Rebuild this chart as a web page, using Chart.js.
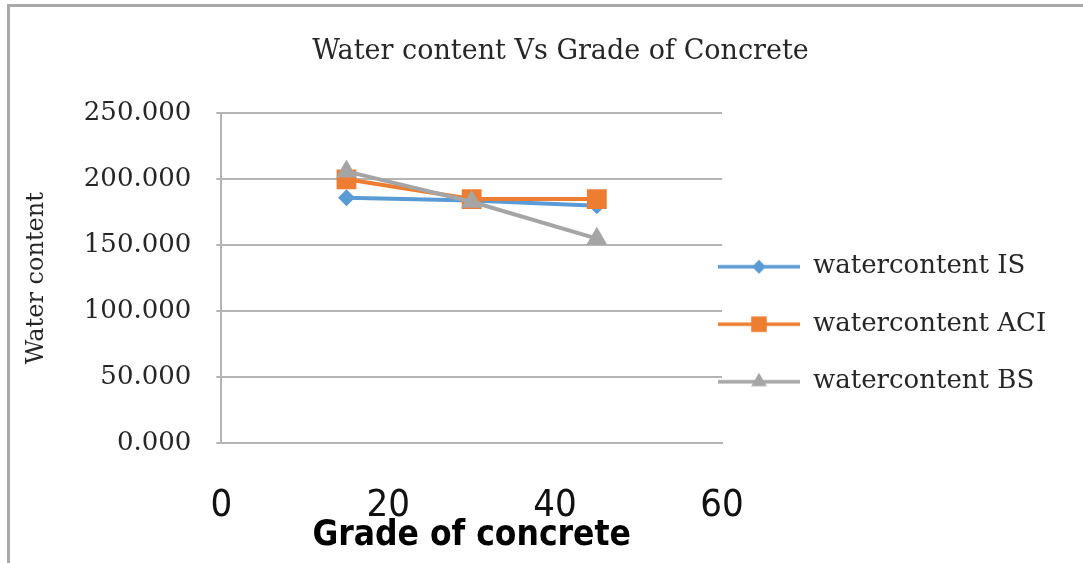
<!DOCTYPE html>
<html>
<head>
<meta charset="utf-8">
<script src="https://cdn.jsdelivr.net/npm/chart.js@4.4.0/dist/chart.umd.min.js"></script>
<style>
  html, body { margin: 0; padding: 0; background: #fff; }
  #frame { position: absolute; left: 7px; top: 4px; width: 1076px; height: 557px;
           border-left: 3px solid #a9a9a9; border-top: 3px solid #a9a9a9; border-bottom: 1px solid #d4d4d4; }
  #wrap { position: absolute; left: 0; top: 0; width: 1083px; height: 563px; }
</style>
</head>
<body>
<div id="frame"></div>
<div id="wrap"><canvas id="chart"></canvas></div>
<script>
// grade of concrete (x) and water content per method
var grades = [15, 30, 45];
var waterIS = [186, 184, 180];
var waterACI = [200, 185, 185];
var waterBS = [206, 183, 155];
var seriesNames = ['watercontent IS', 'watercontent ACI', 'watercontent BS'];
var xTicks = [0, 20, 40, 60];
var yTicks = [0, 50, 100, 150, 200, 250];

var serif = "'DejaVu Serif', serif";
var narrow = "'DejaVu Sans Condensed', 'DejaVu Sans', sans-serif";
var colors = ['#5b9bd5', '#ed7d31', '#a5a5a5'];
var styles = ['rectRot', 'rect', 'triangle'];
var radii = [8.5, 14, 12];

function toPoints(values) {
    return grades.map(function (g, i) { return { x: g, y: values[i] }; });
}

// legend sample: a short line with the marker in the middle
function makeIcon(color, style, r) {
    var c = document.createElement('canvas');
    c.width = 82; c.height = 26;
    var ctx = c.getContext('2d');
    ctx.strokeStyle = color;
    ctx.lineWidth = 3.5;
    ctx.beginPath();
    ctx.moveTo(0, 13); ctx.lineTo(82, 13);
    ctx.stroke();
    ctx.fillStyle = color;
    Chart.helpers.drawPoint(ctx, { pointStyle: style, rotation: 0, radius: r, borderWidth: 0 }, 41, 13);
    return c;
}
var legendIcons = [makeIcon(colors[0], styles[0], 7), makeIcon(colors[1], styles[1], 11), makeIcon(colors[2], styles[2], 9)];

var datasets = [waterIS, waterACI, waterBS].map(function (vals, i) {
    return {
        label: seriesNames[i],
        data: toPoints(vals),
        borderColor: colors[i],
        backgroundColor: colors[i],
        borderWidth: 4,
        pointStyle: styles[i],
        pointRadius: radii[i],
        pointBorderWidth: 0,
        order: 3 - i
    };
});

// nudge legend to sit where the reference has it
var legendNudge = {
    id: 'legendNudge',
    afterLayout: function (chart) {
        var lg = chart.legend;
        var dx = chart.chartArea.right - 4 - lg.left - lg.options.labels.padding;
        lg.left += dx; lg.right += dx;
        lg.top += 46; lg.bottom += 46;
    }
};

new Chart(document.getElementById('chart'), {
    type: 'line',
    data: { datasets: datasets },
    plugins: [legendNudge],
    options: {
        responsive: true,
        maintainAspectRatio: false,
        animation: false,
        layout: { padding: { left: 38, right: 0, top: 0, bottom: 0 } },
        plugins: {
            title: {
                display: true,
                text: 'Water content Vs Grade of Concrete',
                color: '#262626',
                font: { family: serif, size: 27, weight: 'normal' },
                padding: { top: 36, bottom: 45 }
            },
            legend: {
                position: 'right',
                fullSize: false,
                maxWidth: 361,
                labels: {
                    usePointStyle: true,
                    pointStyleWidth: 82,
                    boxHeight: 26,
                    padding: 31.5,
                    color: '#262626',
                    font: { family: serif, size: 26 },
                    generateLabels: function (chart) {
                        return chart.data.datasets.map(function (ds, i) {
                            return {
                                text: ds.label,
                                pointStyle: legendIcons[i],
                                fillStyle: ds.borderColor,
                                strokeStyle: ds.borderColor,
                                lineWidth: 0,
                                fontColor: '#262626',
                                hidden: !chart.isDatasetVisible(i),
                                datasetIndex: i
                            };
                        });
                    }
                }
            },
            tooltip: { enabled: false }
        },
        scales: {
            x: {
                type: 'linear',
                min: xTicks[0],
                max: xTicks[xTicks.length - 1],
                afterBuildTicks: function (scale) { scale.ticks = xTicks.map(function (v) { return { value: v }; }); },
                grid: { display: false, drawTicks: false },
                border: { display: true, color: '#b4b4b4', width: 2 },
                ticks: { color: '#111', padding: 40, font: { family: narrow, size: 38 } },
                title: {
                    display: true,
                    text: 'Grade of concrete',
                    color: '#000',
                    font: { family: narrow, size: 35, weight: 'bold' },
                    padding: { top: -53.6, bottom: 6 }
                }
            },
            y: {
                min: yTicks[0],
                max: yTicks[yTicks.length - 1],
                afterBuildTicks: function (scale) { scale.ticks = yTicks.map(function (v) { return { value: v }; }); },
                grid: { color: '#b4b4b4', lineWidth: 2, tickLength: 5, drawTicks: true },
                border: { display: true, color: '#b4b4b4', width: 2 },
                ticks: {
                    color: '#262626',
                    padding: 25,
                    font: { family: serif, size: 26 },
                    callback: function (v) { return v.toFixed(3); }
                },
                title: {
                    display: true,
                    text: 'Water content',
                    color: '#262626',
                    font: { family: serif, size: 24 },
                    padding: { top: -16, bottom: 8 }
                }
            }
        }
    }
});
</script>
</body>
</html>
